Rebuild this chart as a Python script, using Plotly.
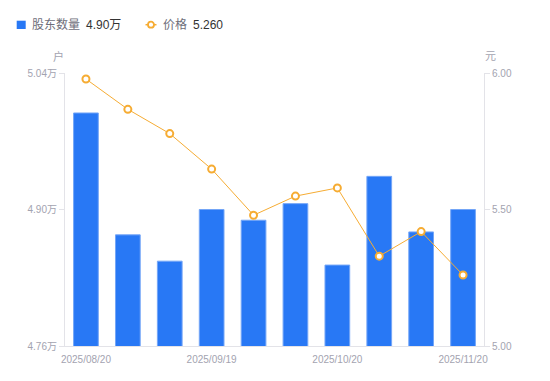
import plotly.graph_objects as go

# ---- data ----
dates = ["2025/08/20", "2025/08/29", "2025/09/10", "2025/09/19", "2025/09/30",
         "2025/10/10", "2025/10/20", "2025/10/31", "2025/11/10", "2025/11/20"]
holders_wan = [4.999, 4.874, 4.847, 4.900, 4.889, 4.906, 4.843, 4.934, 4.877, 4.900]
price = [5.978, 5.867, 5.778, 5.648, 5.479, 5.549, 5.579, 5.329, 5.419, 5.260]
x_tick_dates = ["2025/08/20", "2025/09/19", "2025/10/20", "2025/11/20"]
left_ticks = [4.76, 4.90, 5.04]
right_ticks = [5.00, 5.50, 6.00]
series_names = ["股东数量", "价格"]
unit_left = "户"
unit_right = "元"

# page has 8px body margin; figure fills the rest of the 550x381 window
OFF = 8
W, H = 550 - OFF, 381 - OFF
# plot area in page pixels: x 65..484, y 73..346
PL, PR, PT, PB = 65, 484, 73, 346
ML, MT = PL - OFF, PT - OFF
PW, PH = PR - PL, PB - PT
MR = W - ML - PW
MB = H - MT - PH

def px(x):
    return (x - PL) / PW

def py(y):
    return (PB - y) / PH

FONT = "Liberation Sans, Arial, Noto Sans CJK SC, sans-serif"
BLUE = "#2878F5"
ORANGE = "#F6AC33"
AXIS = "#E3E3E8"
TICKC = "#A3A3B0"

fig = go.Figure()
fig.add_trace(go.Bar(
    x=dates, y=holders_wan, name=series_names[0],
    marker=dict(color=BLUE, line=dict(color="#74A6F7", width=1)),
    yaxis="y", showlegend=False,
))
fig.add_trace(go.Scatter(
    x=dates, y=price, name=series_names[1], mode="lines+markers",
    line=dict(color=ORANGE, width=1),
    marker=dict(symbol="circle", size=7, color="white", line=dict(color=ORANGE, width=2)),
    yaxis="y2", showlegend=False,
))

fig.update_layout(
    width=W, height=H,
    margin=dict(l=ML, r=MR, t=MT, b=MB, pad=0),
    paper_bgcolor="white", plot_bgcolor="white",
    font=dict(family=FONT, size=10, color=TICKC),
    bargap=0.41,
    xaxis=dict(
        type="category", categoryorder="array", categoryarray=dates,
        range=[-0.5, len(dates) - 0.5],
        tickmode="array", tickvals=x_tick_dates, ticktext=x_tick_dates,
        showline=True, linecolor=AXIS, linewidth=1,
        ticks="outside", ticklen=4, tickcolor="rgba(0,0,0,0)",
        showgrid=False, zeroline=False,
        tickfont=dict(size=10, color=TICKC),
    ),
    yaxis=dict(
        range=[left_ticks[0], left_ticks[-1]],
        tickmode="array", tickvals=left_ticks,
        ticktext=[f"{v:.2f}万" for v in left_ticks],
        showline=True, linecolor=AXIS, linewidth=1,
        ticks="outside", ticklen=5, tickcolor=AXIS,
        showgrid=False, zeroline=False,
        tickfont=dict(size=10, color=TICKC),
    ),
    yaxis2=dict(
        overlaying="y", side="right",
        range=[right_ticks[0], right_ticks[-1]],
        tickmode="array", tickvals=right_ticks,
        ticktext=[f"{v:.2f}" for v in right_ticks],
        showline=True, linecolor=AXIS, linewidth=1,
        ticks="outside", ticklen=5, tickcolor=AXIS,
        showgrid=False, zeroline=False,
        tickfont=dict(size=10, color=TICKC),
    ),
)

ann = []
# axis unit titles
ann.append(dict(text=unit_left, x=px(58.7), y=py(56), xref="paper", yref="paper",
                showarrow=False, xanchor="center", yanchor="middle",
                font=dict(size=11, color=TICKC)))
ann.append(dict(text=unit_right, x=px(490), y=py(56), xref="paper", yref="paper",
                showarrow=False, xanchor="center", yanchor="middle",
                font=dict(size=11, color=TICKC)))

# custom legend
ly = py(24.7)
ann.append(dict(text=series_names[0], x=px(30), y=ly, xref="paper", yref="paper",
                showarrow=False, xanchor="left", yanchor="middle",
                font=dict(size=12, color="#6E6E7A")))
ann.append(dict(text=f"{holders_wan[-1]:.2f}万", x=px(84), y=ly, xref="paper", yref="paper",
                showarrow=False, xanchor="left", yanchor="middle",
                font=dict(size=12, color="#333333")))
ann.append(dict(text=series_names[1], x=px(160.5), y=ly, xref="paper", yref="paper",
                showarrow=False, xanchor="left", yanchor="middle",
                font=dict(size=12, color="#6E6E7A")))
ann.append(dict(text=f"{price[-1]:.3f}", x=px(190.5), y=ly, xref="paper", yref="paper",
                showarrow=False, xanchor="left", yanchor="middle",
                font=dict(size=12, color="#333333")))
fig.update_layout(annotations=ann)

shapes = [
    dict(type="rect", xref="paper", yref="paper",
         x0=px(16.7), x1=px(25.7), y0=py(29), y1=py(20.7),
         fillcolor=BLUE, line=dict(width=0)),
    dict(type="line", xref="paper", yref="paper",
         x0=px(145.5), x1=px(156.5), y0=ly, y1=ly,
         line=dict(color=ORANGE, width=1.5)),
    dict(type="circle", xref="paper", yref="paper",
         x0=px(148), x1=px(154), y0=py(27.7), y1=py(21.7),
         fillcolor="white", line=dict(color=ORANGE, width=1.8)),
]
fig.update_layout(shapes=shapes)

fig.write_html("out.html")
